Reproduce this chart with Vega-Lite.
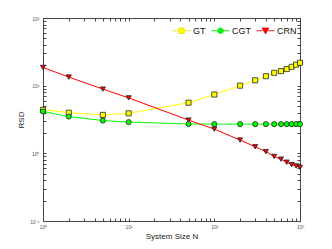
{
  "$schema": "https://vega.github.io/schema/vega-lite/v6.json",
  "width": 257,
  "height": 203,
  "autosize": {"type": "none"},
  "padding": {"left": 43, "top": 18, "right": 32, "bottom": 28},
  "background": "white",
  "config": {
    "view": {"stroke": "#444", "strokeWidth": 1},
    "font": "Liberation Sans"
  },
  "data": {
    "values": [
      {"series": "GT", "N": 1, "RSD": 4.4},
      {"series": "GT", "N": 2, "RSD": 3.98},
      {"series": "GT", "N": 5, "RSD": 3.7},
      {"series": "GT", "N": 10, "RSD": 3.9},
      {"series": "GT", "N": 50, "RSD": 5.6},
      {"series": "GT", "N": 100, "RSD": 7.4},
      {"series": "GT", "N": 200, "RSD": 10.0},
      {"series": "GT", "N": 300, "RSD": 12.0},
      {"series": "GT", "N": 400, "RSD": 13.8},
      {"series": "GT", "N": 500, "RSD": 15.5},
      {"series": "GT", "N": 600, "RSD": 16.4},
      {"series": "GT", "N": 700, "RSD": 17.6},
      {"series": "GT", "N": 800, "RSD": 19.0},
      {"series": "GT", "N": 900, "RSD": 20.4},
      {"series": "GT", "N": 1000, "RSD": 21.8},
      {"series": "CGT", "N": 1, "RSD": 4.15},
      {"series": "CGT", "N": 2, "RSD": 3.5},
      {"series": "CGT", "N": 5, "RSD": 3.05},
      {"series": "CGT", "N": 10, "RSD": 2.9},
      {"series": "CGT", "N": 50, "RSD": 2.72},
      {"series": "CGT", "N": 100, "RSD": 2.7},
      {"series": "CGT", "N": 200, "RSD": 2.7},
      {"series": "CGT", "N": 300, "RSD": 2.7},
      {"series": "CGT", "N": 400, "RSD": 2.7},
      {"series": "CGT", "N": 500, "RSD": 2.7},
      {"series": "CGT", "N": 600, "RSD": 2.7},
      {"series": "CGT", "N": 700, "RSD": 2.7},
      {"series": "CGT", "N": 800, "RSD": 2.7},
      {"series": "CGT", "N": 900, "RSD": 2.7},
      {"series": "CGT", "N": 1000, "RSD": 2.7},
      {"series": "CRN", "N": 1, "RSD": 18.6},
      {"series": "CRN", "N": 2, "RSD": 13.4},
      {"series": "CRN", "N": 5, "RSD": 8.9},
      {"series": "CRN", "N": 10, "RSD": 6.6},
      {"series": "CRN", "N": 50, "RSD": 3.1},
      {"series": "CRN", "N": 100, "RSD": 2.28},
      {"series": "CRN", "N": 200, "RSD": 1.57},
      {"series": "CRN", "N": 300, "RSD": 1.25},
      {"series": "CRN", "N": 400, "RSD": 1.06},
      {"series": "CRN", "N": 500, "RSD": 0.9},
      {"series": "CRN", "N": 600, "RSD": 0.82},
      {"series": "CRN", "N": 700, "RSD": 0.74},
      {"series": "CRN", "N": 800, "RSD": 0.68},
      {"series": "CRN", "N": 900, "RSD": 0.65},
      {"series": "CRN", "N": 1000, "RSD": 0.62}
    ]
  },
  "resolve": {
    "axis": {"x": "independent", "y": "independent"},
    "scale": {"shape": "independent", "stroke": "independent", "color": "independent"},
    "legend": {"shape": "independent", "stroke": "independent", "color": "independent"}
  },
  "layer": [
    {
      "mark": {"type": "line", "strokeWidth": 1},
      "encoding": {
        "x": {
          "field": "N", "type": "quantitative",
          "scale": {"type": "log", "domain": [1, 1000], "nice": false},
          "axis": {
            "orient": "bottom", "offset": -3,
            "title": "System Size N",
            "titleFontSize": 8, "titleFontWeight": "normal", "titleColor": "#222", "titlePadding": 3,
            "values": [1,2,3,4,5,6,7,8,9,10,20,30,40,50,60,70,80,90,100,200,300,400,500,600,700,800,900,1000],
            "labelExpr": "datum.value == 1 ? '10⁰' : datum.value == 10 ? '10¹' : datum.value == 100 ? '10²' : datum.value == 1000 ? '10³' : ''",
            "labelFontSize": 5, "labelColor": "#555", "labelPadding": 3, "labelFlush": false,
            "labelOverlap": false,
            "tickSize": 3, "tickColor": "#444", "domain": false, "grid": false
          }
        },
        "y": {
          "field": "RSD", "type": "quantitative",
          "scale": {"type": "log", "domain": [0.1, 100], "nice": false},
          "axis": {
            "orient": "left", "offset": -3,
            "title": "RSD",
            "titleFontSize": 8, "titleFontWeight": "normal", "titleColor": "#222", "titlePadding": 4,
            "values": [0.1,0.2,0.3,0.4,0.5,0.6,0.7,0.8,0.9,1,2,3,4,5,6,7,8,9,10,20,30,40,50,60,70,80,90,100],
            "labelExpr": "datum.value == 0.1 ? '10⁻¹' : datum.value == 1 ? '10⁰' : datum.value == 10 ? '10¹' : datum.value == 100 ? '10²' : ''",
            "labelFontSize": 5, "labelColor": "#555", "labelPadding": 4, "labelOverlap": false, "labelFlush": false,
            "tickSize": 3, "tickColor": "#444", "domain": false, "grid": false
          }
        },
        "stroke": {
          "field": "series", "type": "nominal",
          "scale": {"domain": ["GT", "CGT", "CRN"], "range": ["#ffff00", "#00ff00", "#ff0000"]},
          "legend": null
        },
        "detail": {"field": "series"}
      }
    },
    {
      "mark": {"type": "point", "filled": false, "strokeWidth": 0.8, "stroke": "#222", "size": 26, "opacity": 1},
      "encoding": {
        "x": {
          "field": "N", "type": "quantitative",
          "axis": {
            "orient": "top", "offset": -3, "title": null, "labels": false,
            "values": [1,2,3,4,5,6,7,8,9,10,20,30,40,50,60,70,80,90,100,200,300,400,500,600,700,800,900,1000],
            "tickSize": 3, "tickColor": "#444", "domain": false, "grid": false
          }
        },
        "y": {
          "field": "RSD", "type": "quantitative",
          "axis": {
            "orient": "right", "offset": -3, "title": null, "labels": false,
            "values": [0.1,0.2,0.3,0.4,0.5,0.6,0.7,0.8,0.9,1,2,3,4,5,6,7,8,9,10,20,30,40,50,60,70,80,90,100],
            "tickSize": 3, "tickColor": "#444", "domain": false, "grid": false
          }
        },
        "fill": {
          "field": "series", "type": "nominal",
          "scale": {"domain": ["GT", "CGT", "CRN"], "range": ["#ffff00", "#00ff00", "#ff0000"]},
          "legend": null
        },
        "shape": {
          "field": "series", "type": "nominal",
          "scale": {"domain": ["GT", "CGT", "CRN"], "range": ["square", "circle", "triangle-down"]},
          "legend": null
        }
      }
    },
    {
      "mark": {"type": "point", "filled": true, "opacity": 0, "size": 324, "strokeWidth": 0.9},
      "encoding": {
        "x": {"field": "N", "type": "quantitative", "axis": null},
        "y": {"field": "RSD", "type": "quantitative", "axis": null},
        "color": {
          "field": "series", "type": "nominal",
          "scale": {"domain": ["GT", "CGT", "CRN"], "range": ["#ffff00", "#00ff00", "#ff0000"]},
          "legend": {"title": null}
        },
        "stroke": {
          "field": "series", "type": "nominal",
          "scale": {"domain": ["GT", "CGT", "CRN"], "range": ["#e8e000", "#00dd00", "#ee0000"]},
          "legend": {"title": null}
        },
        "shape": {
          "field": "series", "type": "nominal",
          "scale": {
            "domain": ["GT", "CGT", "CRN"],
            "range": [
              "M-1,0H-0.3M0.3,0H1M-0.3,-0.3H0.3V0.3H-0.3Z",
              "M-1,0H-0.3M0.3,0H1M-0.3,0A0.3,0.3 0 1,0 0.3,0A0.3,0.3 0 1,0 -0.3,0Z",
              "M-1,0H-0.35M0.35,0H1M-0.38,-0.3L0.38,-0.3L0,0.34Z"
            ]
          },
          "legend": {
            "title": null,
            "orient": "top-right",
            "direction": "horizontal",
            "offset": 3,
            "symbolOpacity": 1,
            "symbolSize": 324,
            "symbolStrokeWidth": 0.9,
            "labelFontSize": 9,
            "labelColor": "#111",
            "labelOffset": 2,
            "columnPadding": 3,
            "padding": 0
          }
        }
      }
    }
  ]
}
